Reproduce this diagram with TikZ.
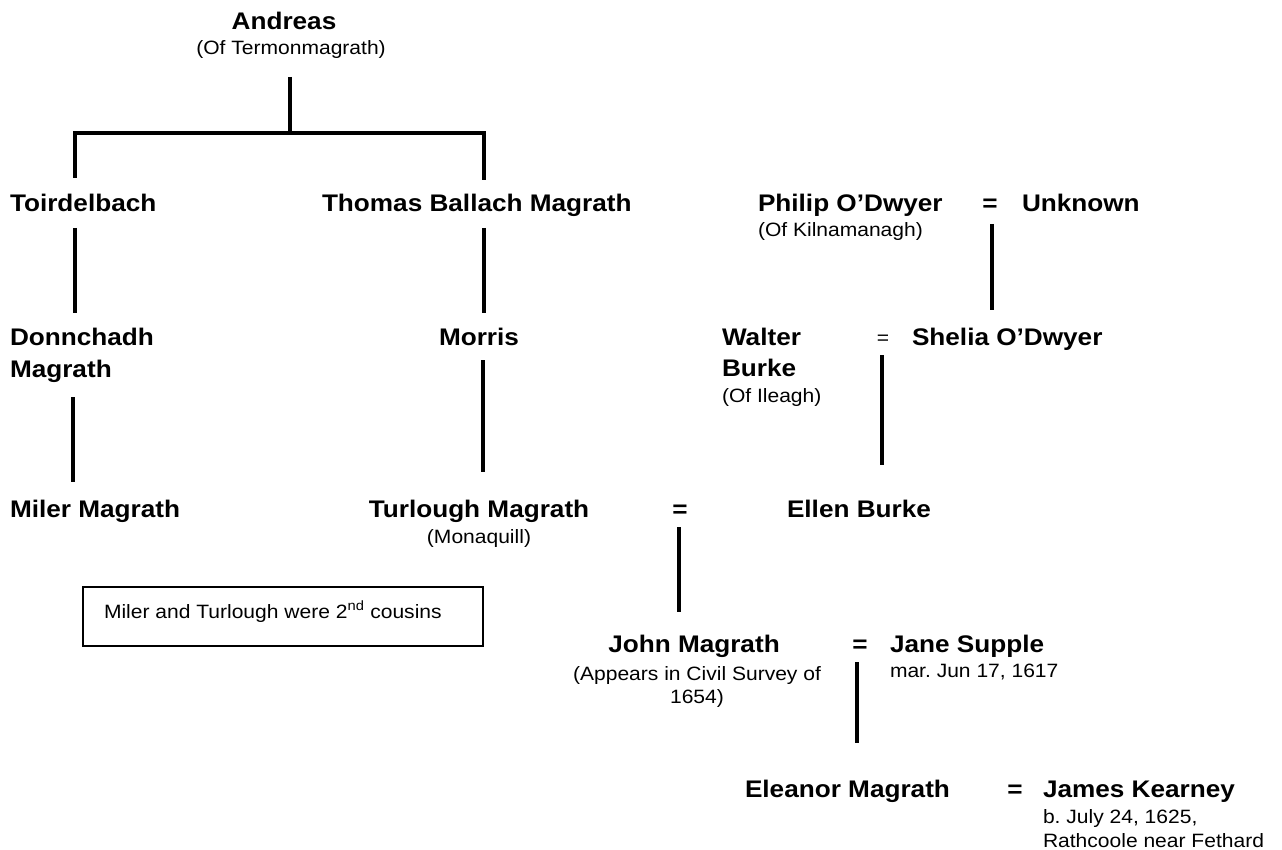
\documentclass[tikz,border=0pt]{standalone}
\usepackage{fontspec}
\setmainfont{Liberation Sans}[FakeStretch=1.09]
\frenchspacing
\begin{document}
\begin{tikzpicture}[x=1pt,y=-1pt,
  every node/.style={inner sep=0pt,outer sep=0pt},
  nm/.style={font=\fontsize{24}{30}\selectfont\bfseries},
  nt/.style={font=\fontsize{19.3}{23}\selectfont},
  eqb/.style={font=\fontsize{24}{30}\selectfont\bfseries,anchor=base},
  eqs/.style={font=\fontsize{19.3}{23}\selectfont,anchor=base},
  link/.style={line width=4.5pt,line cap=butt,line join=miter},
  notebox/.style={draw,line width=1.5pt}]
\useasboundingbox (0,0) rectangle (1282,850);

% Generation 1
\node[nm,anchor=base] (andreas) at (284,30) {Andreas};
\node[nt,anchor=base] (andreasN) at (291,55) {(Of Termonmagrath)};

% Generation 2
\node[nm,anchor=base west] (toir) at (10,212) {Toirdelbach};
\node[nm,anchor=base west] (thomas) at (322,212) {Thomas Ballach Magrath};
\node[nm,anchor=base west] (philip) at (758,212) {Philip O’Dwyer};
\node[nt,anchor=base west] (philipN) at (758,237) {(Of Kilnamanagh)};
\node[eqb] (eq1) at (990,212) {=};
\node[nm,anchor=base west] (unknown) at (1022,212) {Unknown};

% Generation 3
\node[nm,anchor=base west] (donn) at (10,345) {Donnchadh};
\node[nm,anchor=base west] (donn2) at (10,377) {Magrath};
\node[nm,anchor=base] (morris) at (479,345) {Morris};
\node[nm,anchor=base west] (walter) at (722,345) {Walter};
\node[nm,anchor=base west] (walter2) at (722,376) {Burke};
\node[nt,anchor=base west] (walterN) at (722,402) {(Of Ileagh)};
\node[eqs] (eq2) at (883,344) {=};
\node[nm,anchor=base west] (shelia) at (912,345) {Shelia O’Dwyer};

% Generation 4
\node[nm,anchor=base west] (miler) at (10,517) {Miler Magrath};
\node[nm,anchor=base] (turlough) at (479,517) {Turlough Magrath};
\node[nt,anchor=base] (turloughN) at (479,543) {(Monaquill)};
\node[eqb] (eq3) at (680,517) {=};
\node[nm,anchor=base west] (ellen) at (787,517) {Ellen Burke};

% Note box
\draw[notebox] (83,587) rectangle (483,646);
\node[nt,anchor=base west] (note) at (104,618) {Miler and Turlough were 2\textsuperscript{nd} cousins};

% Generation 5
\node[nm,anchor=base] (john) at (694,652) {John Magrath};
\node[nt,anchor=base,align=center] (johnN) at (697,703) {(Appears in Civil Survey of\\1654)};
\node[eqb] (eq4) at (860,652) {=};
\node[nm,anchor=base west] (jane) at (890,652) {Jane Supple};
\node[nt,anchor=base west] (janeN) at (890,677) {mar. Jun 17, 1617};

% Generation 6
\node[nm,anchor=base west] (eleanor) at (745,797) {Eleanor Magrath};
\node[eqb] (eq5) at (1015,797) {=};
\node[nm,anchor=base west] (james) at (1043,797) {James Kearney};
\node[nt,anchor=base west] (jamesN) at (1043,823) {b. July 24, 1625,};
\node[nt,anchor=base west] (jamesN2) at (1043,847) {Rathcoole near Fethard};

% Connector end points
\coordinate (aTop) at (290,77);
\coordinate (aMid) at (290,133);
\coordinate (bL) at (75,133);
\coordinate (bR) at (484,133);
\coordinate (bLe) at (75,178);
\coordinate (bRe) at (484,180);
\coordinate (c1a) at (75,228);  \coordinate (c1b) at (75,313);
\coordinate (c2a) at (484,228); \coordinate (c2b) at (484,313);
\coordinate (c3a) at (992,224); \coordinate (c3b) at (992,310);
\coordinate (d1a) at (73,397);  \coordinate (d1b) at (73,482);
\coordinate (d2a) at (483,360); \coordinate (d2b) at (483,472);
\coordinate (d3a) at (882,355); \coordinate (d3b) at (882,465);
\coordinate (e1a) at (679,527); \coordinate (e1b) at (679,612);
\coordinate (f1a) at (857,662); \coordinate (f1b) at (857,743);

% Connectors
\draw[link] (aTop) -- (aMid);
\draw[link] (bLe) -- (bL) -- (bR) -- (bRe);
\draw[link] (c1a) -- (c1b);
\draw[link] (c2a) -- (c2b);
\draw[link] (c3a) -- (c3b);
\draw[link] (d1a) -- (d1b);
\draw[link] (d2a) -- (d2b);
\draw[link] (d3a) -- (d3b);
\draw[link] (e1a) -- (e1b);
\draw[link] (f1a) -- (f1b);
\end{tikzpicture}
\end{document}
